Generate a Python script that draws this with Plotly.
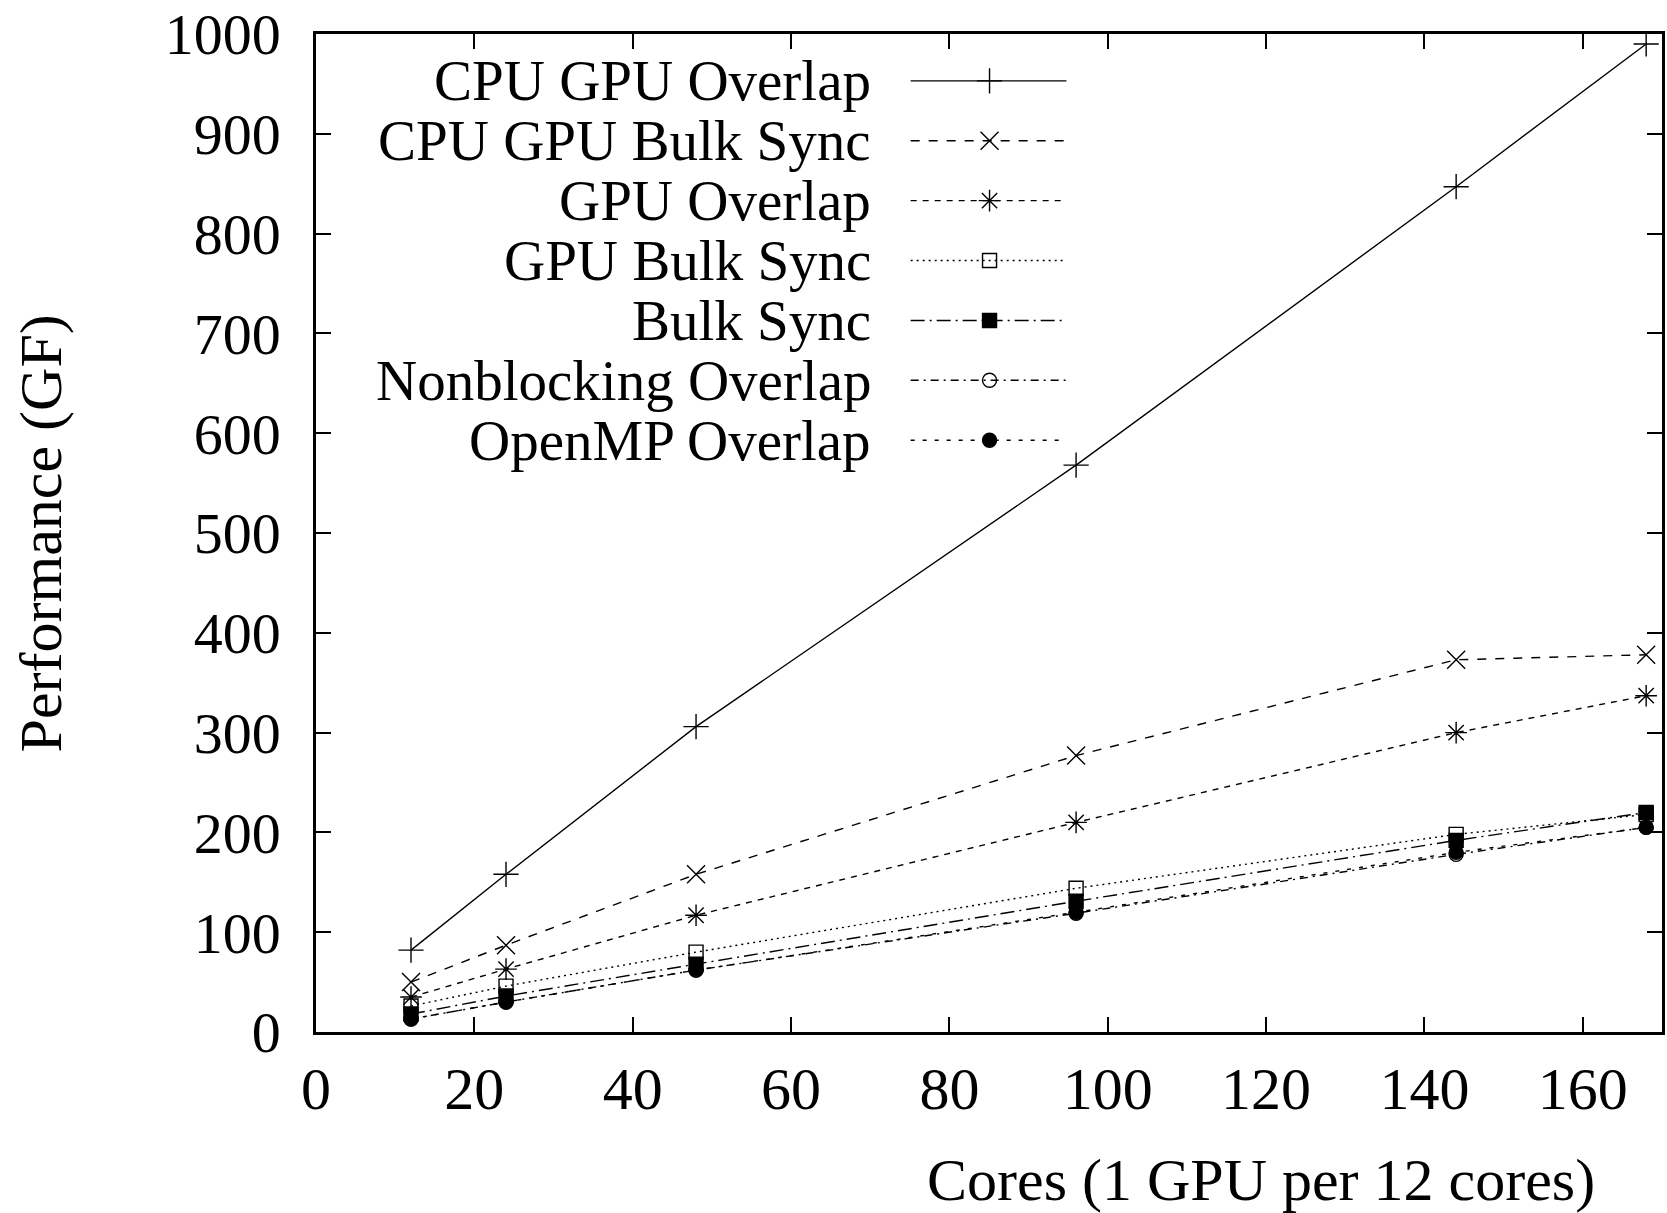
import plotly.graph_objects as go

# ---- data ----
cores = [12, 24, 48, 96, 144, 168]
series_names = [
    "CPU GPU Overlap",
    "CPU GPU Bulk Sync",
    "GPU Overlap",
    "GPU Bulk Sync",
    "Bulk Sync",
    "Nonblocking Overlap",
    "OpenMP Overlap",
]
cpu_gpu_overlap = [82, 158, 306, 568, 847, 990]
cpu_gpu_bulk_sync = [50, 87, 158, 277, 373, 378]
gpu_overlap = [35, 63, 117, 210, 300, 337]
gpu_bulk_sync = [26, 46, 80, 144, 198, 218]
bulk_sync = [18, 36, 68, 131, 192, 220]
nonblocking_overlap = [13, 30, 62, 119, 178, 205]
openmp_overlap = [13, 30, 62, 120, 180, 205]
series_values = [cpu_gpu_overlap, cpu_gpu_bulk_sync, gpu_overlap, gpu_bulk_sync,
                 bulk_sync, nonblocking_overlap, openmp_overlap]

x_ticks = [0, 20, 40, 60, 80, 100, 120, 140, 160]
y_ticks = [0, 100, 200, 300, 400, 500, 600, 700, 800, 900, 1000]
x_title = "Cores (1 GPU per 12 cores)"
y_title = "Performance (GF)"

# ---- styles ----
FONT = "Liberation Serif"
dashes = ["solid", "dash", "6px,6px", "2px,4px", "14px,5px,2px,5px", "8px,5px,2px,5px", "4px,8px"]
symbols = ["cross-thin-open", "x-thin-open", "asterisk-open", "square-open", "square",
           "circle-open", "circle"]
msizes = [18, 18, 18, 14, 14, 14, 14]

fig = go.Figure()
for name, vals, d, s, ms in zip(series_names, series_values, dashes, symbols, msizes):
    fig.add_trace(go.Scatter(
        x=cores, y=vals, name=name, mode="lines+markers",
        line=dict(color="black", width=1.4, dash=d),
        marker=dict(symbol=s, size=ms, color="black", line=dict(color="black", width=1.4)),
        showlegend=False,
    ))

# ---- manual legend (text right-aligned, sample to the right) ----
LEG_TEXT_X = 0.4136
LEG_X0, LEG_XM, LEG_X1 = 0.4418, 0.5004, 0.5575
LEG_TOP, LEG_STEP = 0.953, 0.0600
for i, (name, d, s, ms) in enumerate(zip(series_names, dashes, symbols, msizes)):
    yy = LEG_TOP - i * LEG_STEP
    fig.add_trace(go.Scatter(
        x=[LEG_X0, LEG_X1], y=[yy, yy], mode="lines", xaxis="x2", yaxis="y2",
        line=dict(color="black", width=1.4, dash=d), showlegend=False, hoverinfo="skip",
    ))
    fig.add_trace(go.Scatter(
        x=[LEG_XM], y=[yy], mode="markers", xaxis="x2", yaxis="y2",
        marker=dict(symbol=s, size=ms, color="black", line=dict(color="black", width=1.4)),
        showlegend=False, hoverinfo="skip",
    ))
    fig.add_annotation(
        x=LEG_TEXT_X, y=yy, xref="paper", yref="y2", text=name, showarrow=False,
        xanchor="right", yanchor="middle", font=dict(family=FONT, size=57, color="black"),
    )

# axis titles
fig.add_annotation(x=-0.204, y=0.5, xref="paper", yref="paper", text=y_title,
                   textangle=-90, showarrow=False, xanchor="center", yanchor="middle",
                   font=dict(family=FONT, size=60, color="black"))
fig.add_annotation(x=0.702, y=-0.148, xref="paper", yref="paper", text=x_title,
                   showarrow=False, xanchor="center", yanchor="middle",
                   font=dict(family=FONT, size=60, color="black"))

axis_common = dict(
    showgrid=False, zeroline=False, showline=True, linecolor="black", linewidth=2.5,
    mirror="allticks", ticks="inside", ticklen=15, tickwidth=2, tickcolor="black",
    ticklabeloverflow="allow",
)
fig.update_layout(
    width=1667, height=1213,
    margin=dict(l=316, r=2, t=30, b=181),
    paper_bgcolor="white", plot_bgcolor="white",
    font=dict(family=FONT, color="black"),
    xaxis=dict(range=[0, 170], tickvals=x_ticks, ticktext=[str(v) for v in x_ticks],
               tickfont=dict(family=FONT, size=60), ticklabelstandoff=2, **axis_common),
    yaxis=dict(range=[0, 1000.01], tickvals=y_ticks, ticktext=[str(v) for v in y_ticks],
               tickfont=dict(family=FONT, size=58), ticklabelstandoff=21, **axis_common),
    xaxis2=dict(range=[0, 1], overlaying="x", visible=False, fixedrange=True),
    yaxis2=dict(range=[0, 1], overlaying="y", visible=False, fixedrange=True),
    showlegend=False,
)

fig.write_html("out.html")
